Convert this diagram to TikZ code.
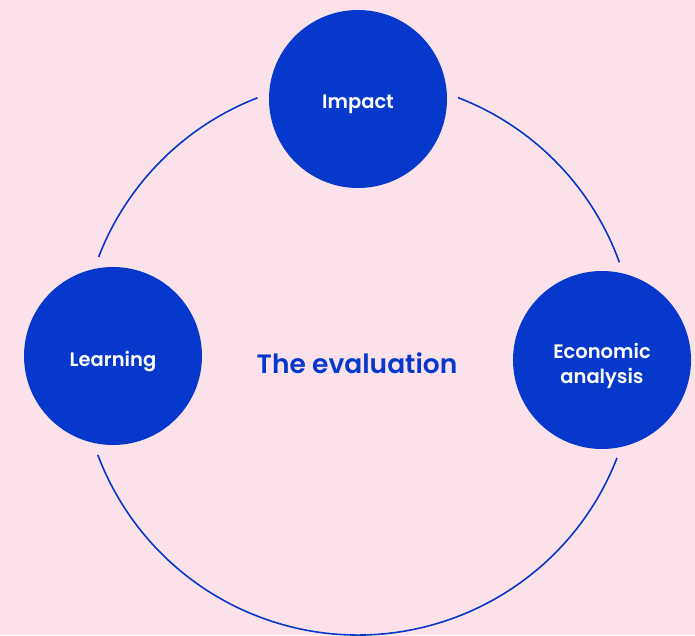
\documentclass[tikz,border=0pt]{standalone}
\usepackage{fontspec}
\setmainfont{Poppins}
\newfontfamily\medfont{Poppins SemiBold}
\usepackage{tikz}
\usetikzlibrary{positioning}
\definecolor{evalblue}{RGB}{6,56,204}
\definecolor{evalpink}{RGB}{251,226,234}

\begin{document}
\begin{tikzpicture}[
    x=1pt, y=1pt,
    stage/.style={circle, fill=evalblue, minimum size=178pt, inner sep=0pt, text=white, align=center, text depth=0pt, font=\medfont\fontsize{19.5}{25}\selectfont},
    ring/.style={evalblue, line width=1.6pt}
]
\fill[evalpink] (0,0) rectangle (695,635);
\useasboundingbox (0,0) rectangle (695,635);

\coordinate (hub) at (358,278);

% outer ring, broken where the stages sit
\foreach \a/\b in {68.9/19.9, -21.3/-159.4, 158.9/111.2} {
    \draw[ring] (hub) ++(\a:278) arc[start angle=\a, end angle=\b, radius=278];
}

\node[stage, text height=20pt] (impact) at (358,536) {Impact};
\node[stage, text height=20pt] (learning) at (113,279) {Learning};
\node[stage, text height=46pt] (econ) at (602,275) {Economic\\analysis};

\node[anchor=base, text=evalblue, font=\medfont\fontsize{26.5}{30}\selectfont] (title) at (357,262) {The evaluation};
\end{tikzpicture}
\end{document}
